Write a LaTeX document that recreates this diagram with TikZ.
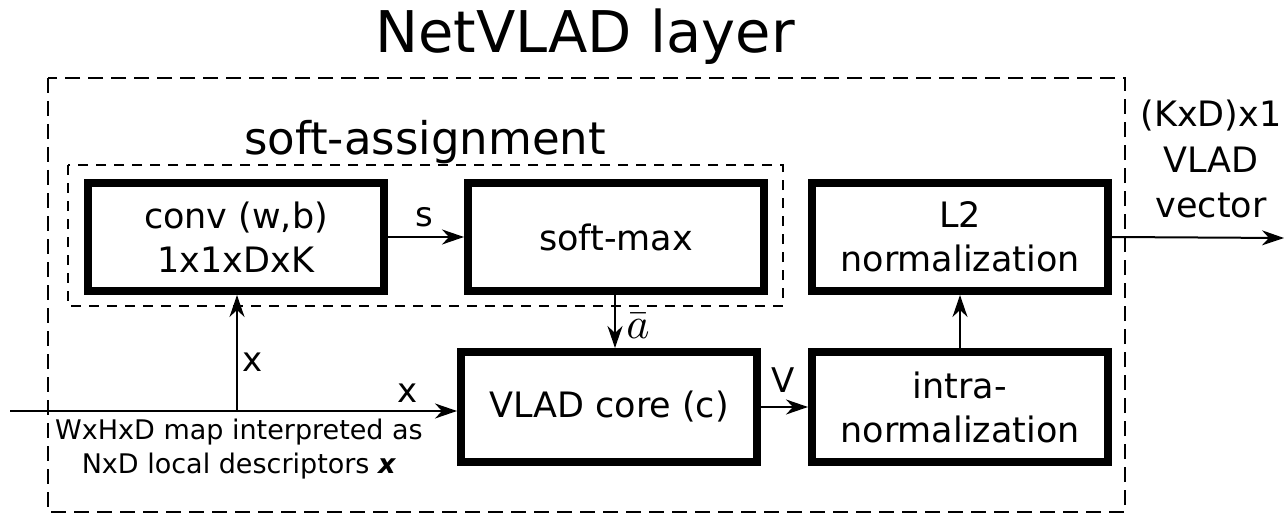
\documentclass[tikz,border=0pt]{standalone}
\usepackage{graphicx}
\usepackage{fontspec}
\setmainfont{DejaVu Sans}
\usepackage{tikz}
\usetikzlibrary{arrows.meta,positioning,calc}
\tikzset{
  blk/.style={draw, line width=8pt, minimum width=296pt, minimum height=108pt,
              inner sep=0pt, align=center, font=\fontsize{35}{44}\selectfont},
  flow/.style={-{Stealth[length=22pt, width=15pt, inset=7pt]}, line width=2pt},
  lbl/.style={font=\fontsize{34}{40}\selectfont, inner sep=0pt},
  grp/.style={draw, line width=2pt, dash pattern=on #1 off 8pt}
}

\begin{document}
\begin{tikzpicture}[x=1pt, y=-1pt]
  \useasboundingbox (0,0) rectangle (1288,516);
  % frames
  \draw[grp=15pt] (48,78) rectangle (1125,512);
  \draw[grp=10pt] (68,165) rectangle (783,306);
  \node[anchor=base, font=\fontsize{57.5}{60}\selectfont] (title) at (585,53) {NetVLAD layer};
  \node[anchor=base, font=\fontsize{45}{50}\selectfont] (sa) at (425,155) {soft-assignment};
  % blocks
  \node[blk] (conv) at (236,237) {conv (w,b)\\1x1xDxK};
  \node[blk] (smax) at (616,237) {soft-max};
  \node[blk] (l2) at (960,237) {L2\\normalization};
  \node[blk, minimum height=110pt] (core) at (609,407) {VLAD core (c)};
  \node[blk, minimum height=110pt] (intra) at (960,407) {intra-\\normalization};
  % input
  \coordinate (in) at (10,411);
  \coordinate (split) at (237,411);
  \coordinate (out) at (1284,238);
  \draw[flow] (in) -- (in -| core.west);
  \draw[flow] (split) -- (split |- conv.south);
  \draw[flow] (conv.east) -- (smax.west);
  \draw[flow] (smax.south -| 615,0) -- (core.north -| 615,0);
  \draw[flow] (core.east) -- (intra.west);
  \draw[flow] (intra.north) -- (l2.south);
  \draw[flow] (l2.east) -- (out);
  % labels
  \node[lbl] (xup) at (253,362) {x};
  \node[lbl] (xin) at (408,393) {x};
  \node[lbl] (s) at (424,217) {s};
  \node[lbl] (v) at (783,380) {V};
  \node[inner sep=0pt] (abar) at (638,326) {\scalebox{4.4}{$\bar{a}$}};
  \node[align=center, font=\fontsize{27}{34}\selectfont, inner sep=0pt] (desc) at (239,449)
    {WxHxD map interpreted as\\NxD local descriptors \textbf{\textit{x}}};
  \node[align=center, font=\fontsize{35}{45.5}\selectfont, inner sep=0pt] (vec) at (1211,159)
    {(KxD)x1\\VLAD\\vector};
\end{tikzpicture}
\end{document}
